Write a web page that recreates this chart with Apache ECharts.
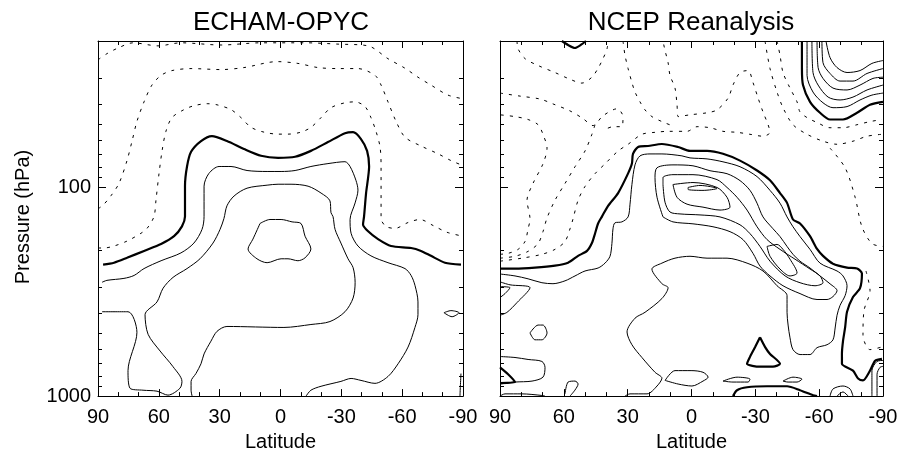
<!DOCTYPE html>
<html><head><meta charset="utf-8">
<script src="https://cdn.jsdelivr.net/npm/echarts@6/dist/echarts.min.js"></script>
<style>html,body{margin:0;padding:0;background:#fff}#c{width:901px;height:457px}</style>
</head><body><div id="c"></div>
<script>
const FONT = 'Liberation Sans, Arial, Helvetica, sans-serif';
const titles = ['ECHAM-OPYC', 'NCEP Reanalysis'];
const latTicks = [90, 60, 30, 0, -30, -60, -90];
const pressureLabels = [100, 1000];
const pressureMinor = [20, 30, 40, 50, 60, 70, 80, 90, 200, 300, 400, 500, 600, 700, 800, 900];

// ---- ECHAM-OPYC contours: [latitude, pressure hPa]
const echamDash1 = [[90,24.6],[85.6,23.0],[80.1,21.6],[72.7,20.4],[60.4,21.1],[49.1,20.4],[29.3,20.9],[9.6,20.4],[-12.1,20.4],[-28.4,20.7],[-43.2,21.1],[-53.0,24.3],[-61.4,27.0],[-67.8,29.8],[-74.2,32.5],[-82.6,36.3],[-90,37.8]];
const echamDash2 = [[90,127],[87.5,122],[83.6,110],[79.6,95.8],[75.7,74.7],[73.2,60.2],[70.8,48.5],[67.3,39.1],[63.4,32.5],[58.9,29.2],[53.5,27.7],[44.1,27.1],[29.3,27.4],[18.0,26.8],[1.7,25.1],[-8.6,25.6],[-18.5,26.8],[-28.4,27.1],[-38.2,27.1],[-46.6,29.2],[-49.6,32.5],[-53.0,39.1],[-57.0,48.5],[-61.4,57.7],[-69.3,63.6],[-77.7,69.3],[-84.1,74.7],[-90,78.9]];
const echamDash3 = [[90,195.6],[87.0,195.6],[82.1,191.4],[75.7,181.3],[68.8,166.3],[65.8,157.6],[62.4,138.4],[61.4,115.2],[59.9,86.0],[58.4,67.1],[56.5,54.1],[53.5,46.5],[47.6,42.6],[42.7,40.8],[36.2,39.9],[31.3,40.4],[24.4,42.6],[19.5,46.5],[14.5,51.8],[8.1,54.6],[1.2,55.8],[-3.7,55.8],[-10.1,54.6],[-15.0,51.8],[-20.0,46.5],[-24.9,41.7],[-31.8,39.5],[-36.8,39.1],[-41.7,41.2],[-44.6,46.5],[-47.1,54.1],[-49.1,64.3],[-49.6,79.7],[-49.6,95.8],[-49.6,115.2],[-49.6,141.4],[-52.0,154.2],[-56.5,157.6],[-62.9,147.7],[-68.8,142.9],[-75.2,152.6],[-82.1,164.5],[-90,171.8]];
const echamZero = [[87.5,235.0],[82.1,230.0],[75.7,217.9],[67.3,202.0],[58.9,187.3],[52.5,171.8],[48.6,154.2],[47.1,138.4],[47.1,99.0],[46.1,79.7],[44.1,67.8],[39.2,60.2],[33.8,57.0],[26.4,60.2],[18.0,65.7],[9.6,70.8],[1.2,72.4],[-7.2,71.6],[-15.0,67.1],[-23.4,60.9],[-31.8,55.2],[-35.8,54.6],[-39.7,58.9],[-42.7,67.1],[-43.7,79.7],[-42.2,106.8],[-41.2,138.4],[-40.7,150.9],[-43.2,162.8],[-48.1,177.4],[-54.5,191.4],[-64.4,195.6],[-69.3,202.0],[-74.2,213.3],[-81.1,230.0],[-89,235.0]];
const echamPos1 = [[88.0,285.4],[85.6,279.4],[77.2,273.4],[72.2,264.7],[67.3,245.4],[58.9,225.1],[49.1,206.5],[42.7,185.3],[38.7,159.3],[37.7,138.4],[37.7,99.0],[35.3,86.0],[30.3,79.7],[24.4,79.7],[16.5,83.3],[6.6,84.2],[-0.3,84.2],[-7.2,83.3],[-15.0,79.7],[-23.4,77.2],[-31.8,75.6],[-34.3,79.7],[-37.2,92.8],[-38.2,103.4],[-36.8,119.0],[-34.3,142.9],[-34.8,166.3],[-38.2,191.4],[-44.6,213.3],[-53.0,230.0],[-61.4,245.4],[-64.4,264.7],[-66.3,294.9],[-67.8,354.3],[-67.8,407.9],[-66.3,469.4],[-62.9,582.6],[-58.0,700.1],[-53.0,805.7],[-46.6,869.0],[-39.7,841.3],[-34.8,823.3],[-29.8,850.5],[-20.0,897.4],[-15.0,937.1],[-12.6,1000]];
const echamPos2 = [[43.6,1000],[44.1,937.1],[44.1,850.5],[41.7,779.8],[39.2,700.1],[37.7,628.3],[34.3,546.0],[31.3,489.9],[26.4,464.3],[-1.7,469.4],[-15.0,454.4],[-24.4,439.9],[-31.8,394.8],[-35.8,339.5],[-36.8,285.4],[-35.8,242.8],[-33.3,220.3],[-29.8,185.3],[-26.9,159.3],[-25.9,138.4],[-24.9,132.6],[-24.4,116.4],[-20.0,106.8],[-13.6,99.0],[-5.2,96.9],[1.2,96.9],[6.6,97.9],[16.5,101.2],[22.9,110.3],[26.4,122.9],[27.9,141.4],[29.8,159.3],[33.3,185.3],[39.7,220.3],[46.1,245.4],[53.0,270.4],[57.9,304.6],[60.9,354.3],[66.8,407.9],[65.3,506.2],[59.4,608.3],[53.0,723.2],[48.6,850.5],[49.6,917.4],[55.5,989.2],[60.9,947.3],[67.8,937.1],[74.2,917.4],[75.2,755.2],[70.8,495.3],[75.2,394.8],[88.0,394.8]];
const echamPos3 = [[10.1,149.3],[5.2,142.9],[-0.3,142.9],[-5.7,146.7],[-10.1,149.3],[-12.1,171.8],[-15.0,197.7],[-12.1,217.9],[-8.6,225.1],[-3.7,220.3],[-0.3,220.3],[6.6,230.0],[11.6,220.3],[16.0,197.7],[13.6,177.4],[10.1,149.3]];
const echamSmall = [[-80.6,399],[-84.1,390],[-88.0,399],[-84.6,417],[-80.6,399]];
const echamEdge = [[-89,780],[-88.7,897],[-88.5,1000]];

// ---- NCEP contours: [latitude, pressure hPa]
const ncepTopArc = [[60.9,20],[58.0,20.9],[54.8,21.6],[51.5,20.7],[49.6,20]];
const ncepDashU = [[82.0,20],[81.5,21.8],[78.2,24.3],[72.1,26.2],[64.2,28.3],[58.0,30.2],[51.5,31.8],[46.8,29.8],[43.9,27.0],[41.6,24.3],[39.7,21.8],[39.2,20]];
const ncepDash3 = [[90,35.5],[80.6,36.7],[71.2,37.9],[65.1,40.0],[57.1,43.2],[51.0,47.0],[46.3,50.8],[41.6,45.6],[35.0,42.2],[32.2,46.0],[32.7,51.4],[36.9,51.4],[40.65,53.0]];
const ncepDashA = [[90,209.7],[86.2,207.5],[81.5,198.6],[78.25,182.1],[76.8,158.4],[75.9,142.2],[77.3,115.6],[74.5,96.1],[69.8,77.4],[67.9,65.1],[69.8,55.9],[72.1,50.3],[76.8,47.5],[82.95,46.0],[90,45.1]];
const ncepDashB = [[90,218.8],[82.95,214.3],[76.8,203.0],[72.1,186.3],[69.8,163.4],[67.9,140.5],[64.15,115.6],[59.45,96.1],[54.75,79.9],[50.05,67.2],[46.8,55.9],[45.35,50.3]];
const ncepDashC = [[90,226.2],[79.7,218.8],[70.3,209.7],[64.15,198.6],[59.45,182.1],[57.1,158.4],[55.7,142.2],[53.3,115.6],[50.05,99.3],[45.35,86.3],[40.65,77.4],[34.5,67.2],[29.8,62.4],[23.3,55.9],[17.15,54.7],[11.0,54.1],[2.1,54.1],[-2.6,51.4],[-8.7,52.0],[-14.8,54.1],[-21.4,54.7],[-27.5,55.9],[-33.6,57.1],[-36.9,54.7],[-36.0,50.3],[-33.6,43.7],[-31.3,37.5],[-28.9,31.6],[-26.6,27.7],[-22.8,28.3],[-19.5,32.5],[-17.2,37.5],[-12.0,42.7],[-7.3,44.1],[0.7,45.1],[6.3,46.0],[6.8,40.4],[7.75,33.6],[10.1,29.2],[11.0,25.4],[12.45,22.2],[13.4,20]];
const ncepDashD = [[32.2,20],[31.25,23.4],[29.8,27.1],[28.0,31.6],[26.55,35.1],[24.2,39.1],[21.85,42.7],[18.6,46.0],[13.9,48.6],[9.2,50.8]];
const ncepDashR1 = [[-40.2,20],[-41.6,23.4],[-43.0,28.3],[-46.3,33.6],[-49.6,39.1],[-51.0,43.7],[-54.3,46.5],[-59.0,49.1],[-65.1,52.0],[-71.2,52.0],[-77.8,50.3],[-83.9,48.6],[-89.5,47.5]];
const ncepDashR2 = [[-34.55,20],[-36.9,27.1],[-40.2,35.1],[-43.0,41.7],[-47.7,50.3],[-54.3,55.9],[-61.8,60.3],[-68.4,62.4],[-75.9,60.3],[-82.5,57.1],[-89.5,55.9]];
const ncepDashR3 = [[-65.1,65.1],[-72.2,80.8],[-76.9,111.9],[-80.1,154.8],[-84.8,186.3],[-90,192.3]];
const ncepDashR4 = [[-82.0,252.0],[-83.9,313.0],[-81.1,388.7],[-80.6,509.5],[-83.9,599.3],[-90,580]];
const ncepTopThick = [[-51.9,20],[-51.9,27.1],[-52.4,32.5],[-55.7,39.1],[-60.4,44.1],[-65.1,47.5],[-71.2,47.5],[-77.8,44.1],[-83.9,40.4],[-90,39.1]];
const ncepTop1 = [[-54.3,20],[-54.3,29.2],[-57.1,35.1],[-61.8,39.5],[-66.5,41.7],[-73.1,41.2],[-79.2,38.3],[-84.8,36.3],[-90,35.5]];
const ncepTop2 = [[-56.6,20],[-57.1,28.3],[-59.5,32.5],[-64.2,37.1],[-69.8,38.3],[-75.9,37.1],[-82.5,34.3],[-90,32.5]];
const ncepTop3 = [[-59.0,20],[-59.5,26.8],[-61.8,30.2],[-66.5,33.6],[-73.1,34.3],[-79.2,32.5],[-85.3,30.2],[-90,29.8]];
const ncepTop4 = [[-61.3,20],[-61.8,25.4],[-65.1,28.6],[-69.8,31.1],[-75.9,31.1],[-82.5,28.6],[-90,27.1]];
const ncepTop5 = [[-63.2,20],[-65.1,24.0],[-68.4,26.8],[-73.1,28.3],[-79.2,27.7],[-84.8,25.6],[-90,24.8]];
const ncepZero = [[90,245.4],[82.95,245.4],[73.55,242.8],[64.15,237.6],[58.0,230.0],[53.3,213.3],[49.1,202.0],[46.8,185.3],[45.3,166.3],[43.9,149.3],[42.1,138.4],[39.2,122.9],[34.5,106.8],[29.8,86.0],[28.0,77.2],[27.5,69.3],[25.1,64.3],[20.4,63.6],[13.9,62.2],[6.3,64.3],[0.7,67.1],[-7.3,67.1],[-14.8,69.3],[-22.8,74.7],[-30.8,83.3],[-36.9,92.8],[-41.6,106.8],[-44.9,119.0],[-47.7,142.9],[-51.0,149.3],[-55.7,171.8],[-59.0,197.7],[-61.8,213.3],[-66.5,232.5],[-73.1,242.8],[-77.8,245.4],[-80.1,259.0],[-79.2,304.6],[-75.9,335.7],[-73.1,394.8],[-72.2,469.4],[-71.2,546.0],[-70.7,628.3],[-70.7,700.1],[-75.9,755.2],[-78.3,823.3],[-80.6,841.3],[-83.9,755.2],[-86.3,677.7],[-89.5,663.2]];
const ncepPos1 = [[90,260.5],[82.95,266.1],[76.8,274.7],[70.3,286.8],[65.1,289.9],[59.45,280.9],[54.75,266.1],[50.05,252.0],[43.9,243.9],[40.65,231.1],[38.3,214.3],[37.4,186.3],[36.9,158.4],[36.0,148.3],[32.7,146.7],[29.8,138.9],[28.9,120.7],[28.0,97.2],[26.55,78.3],[24.2,70.9],[19.5,69.4],[13.9,69.4],[4.5,70.9],[0.7,72.5],[-7.3,73.3],[-14.8,75.7],[-22.8,79.9],[-30.8,89.1],[-36.9,103.7],[-41.6,119.4],[-44.9,138.9],[-47.7,154.8],[-51.0,172.5],[-55.7,198.6],[-60.4,231.1],[-68.4,252.0],[-71.2,266.1],[-73.1,296.5],[-72.2,330.4],[-69.8,368.2],[-68.4,410.3],[-67.5,472.3],[-66.5,537.8],[-63.7,567.8],[-59.0,586.4],[-55.7,632.7],[-51.0,632.7],[-47.7,599.3],[-46.3,526.4],[-45.4,457.2],[-44.9,397.3],[-44.9,330.4],[-40.2,296.5],[-33.6,252.0],[-26.1,231.1],[-16.7,218.8],[-7.3,218.8],[0.7,214.3],[7.75,218.8],[13.9,231.1],[18.6,246.6],[13.9,289.9],[11.0,303.0],[13.9,341.3],[21.85,397.3],[26.55,423.9],[30.3,493.3],[28.0,567.8],[23.3,653.6],[17.15,769.1],[13.9,820.5],[16.2,894.8],[20.9,975.7],[28.9,975.7],[31.25,1000]];
const ncepPos2 = [[13.4,138.9],[16.2,111.9],[17.15,90.1],[16.2,80.8],[8.7,78.3],[-0.7,79.1],[-8.7,83.5],[-16.7,86.3],[-22.8,93.1],[-27.5,103.7],[-30.8,119.4],[-33.6,138.9],[-38.3,158.2],[-41.6,172.5],[-44.9,192.3],[-47.7,209.7],[-51.0,226.2],[-55.7,243.9],[-60.4,266.1],[-65.1,290.2],[-68.4,313.0],[-66.5,334.0],[-63.7,345.0],[-59.0,345.0],[-51.0,323.3],[-43.0,296.5],[-36.9,266.1],[-32.2,238.8],[-28.9,207.5],[-24.2,178.3],[-18.1,163.4],[-10.1,154.8],[-0.7,149.9],[8.7,146.7],[13.4,138.9]];
const ncepPos3 = [[13.4,97.2],[13.4,90.1],[8.7,87.2],[-0.7,87.2],[-12.0,92.1],[-16.7,100.4],[-21.4,111.9],[-26.1,128.8],[-30.8,154.8],[-35.5,178.3],[-41.6,198.6],[-48.65,221.3],[-55.7,246.6],[-60.4,266.1],[-61.8,286.8],[-58.05,296.5],[-51.0,286.8],[-44.0,266.1],[-36.9,226.2],[-32.2,192.3],[-27.5,167.0],[-22.8,151.5],[-13.4,138.9],[-4.0,135.9],[5.4,134.4],[10.1,131.6],[12.45,118.1],[13.4,97.2]];
const ncepLoop1 = [[8.7,97.2],[-0.7,95.1],[-12.0,100.4],[-16.7,111.9],[-18.1,124.7],[-13.4,128.8],[-5.4,124.7],[2.1,120.7],[6.8,111.9],[8.7,97.2]];
const ncepLens1 = [[1.6,100.4],[-4.0,98.2],[-12.0,101.5],[-5.4,103.7],[1.6,102.6],[1.6,100.4]];
const ncepLoop2 = [[-35.5,192.3],[-40.2,188.1],[-43.0,198.6],[-46.3,221.3],[-49.6,257.6],[-46.3,266.1],[-41.6,246.6],[-36.9,214.3],[-35.5,192.3]];
const ncepEdgeTri = [[90,284],[85.3,293.5],[75.9,303.0],[82.0,356.8],[86.7,397.3],[90,410.3]];
const ncepEdgeSmall = [[90,299.5],[85.3,303.0],[87.65,323.3],[90,337.6]];
const ncepSmallLoop = [[75.9,498.6],[72.1,457.2],[69.8,457.2],[67.9,498.6],[70.3,537.8],[73.55,537.8],[75.9,498.6]];
const ncepLeftLow = [[90,646.6],[82.95,653.6],[76.8,667.9],[70.3,682.6],[68.85,728.5],[69.8,811.7],[74.95,847.5],[82.95,856.7],[90,875.5]];
const ncepLeftThick = [[90,728.5],[86.2,785.7],[82.95,856.7],[90,866.0]];
const ncepBottomLeft = [[90,1000],[87.65,975.7],[79.7,975.7],[70.3,992.9],[68.85,1000]];
const ncepBottomLoop = [[59.45,975.7],[58.0,856.7],[54.75,847.5],[53.3,875.5],[54.75,934.9],[57.1,1000]];
const ncepLensC = [[12.4,841.3],[7.75,755.2],[0.2,755.2],[-5.4,769.1],[-7.8,811.7],[-5.4,847.5],[-0.2,894.7],[6.3,875.5],[12.4,841.3]];
const ncepLensA = [[-14.8,847.5],[-21.4,811.7],[-27.5,829.4],[-26.6,856.7],[-19.5,856.7],[-14.8,847.5]];
const ncepLensB = [[-43.0,847.5],[-47.7,811.7],[-51.9,829.4],[-49.6,856.7],[-45.4,856.7],[-43.0,847.5]];
const ncepTriangle = [[-32.2,522.9],[-34.6,582.6],[-36.9,628.3],[-41.6,700.1],[-38.3,723.2],[-32.2,723.2],[-26.1,700.1],[-27.5,649.0],[-29.9,582.6],[-32.2,522.9]];
const ncepBottomThick = [[-19.5,1000],[-21.4,937.1],[-26.1,907.4],[-35.5,897.4],[-44.9,897.4],[-51.0,937.1],[-57.1,990],[-59.0,1000]];
const ncepBR1 = [[-65.1,1000],[-66.5,924.2],[-71.2,894.7],[-74.5,924.2],[-75.9,1000]];
const ncepBR2 = [[-68.4,1000],[-71.2,955],[-73.6,1000]];
const ncepRE1 = [[-84.8,1000],[-84.8,755.2],[-87.2,682.6],[-90,675.2]];
const ncepRE2 = [[-87.2,1000],[-87.2,785.7],[-88.6,728.5],[-90,720.6]];

const panels = [
  { grid: { left: 98, top: 41, width: 365, height: 362 }, labels: true, lines: [
    [echamDash1,'dash'],[echamDash2,'dash'],[echamDash3,'dash'],[echamZero,'thick'],
    [echamPos1,'thin'],[echamPos2,'thin'],[echamPos3,'thin'],[echamSmall,'thin'],[echamEdge,'thin']
  ]},
  { grid: { left: 500, top: 41, width: 383, height: 362 }, labels: false, lines: [
    [ncepTopArc,'thick'],[ncepDashU,'dash'],[ncepDash3,'dash'],[ncepDashA,'dash'],[ncepDashB,'dash'],[ncepDashC,'dash'],[ncepDashD,'dash'],
    [ncepDashR1,'dash'],[ncepDashR2,'dash'],[ncepDashR3,'dash'],[ncepDashR4,'dash'],
    [ncepTopThick,'thick'],[ncepTop1,'thin'],[ncepTop2,'thin'],[ncepTop3,'thin'],[ncepTop4,'thin'],[ncepTop5,'thin'],
    [ncepZero,'thick'],[ncepPos1,'thin'],[ncepPos2,'thin'],[ncepPos3,'thin'],[ncepLoop1,'thin'],[ncepLens1,'thin'],[ncepLoop2,'thin'],
    [ncepEdgeTri,'thin'],[ncepEdgeSmall,'thin'],[ncepSmallLoop,'thin'],[ncepLeftLow,'thin'],[ncepLeftThick,'thick'],
    [ncepBottomLeft,'thin'],[ncepBottomLoop,'thin'],[ncepLensC,'thin'],[ncepLensA,'thin'],[ncepLensB,'thin'],
    [ncepTriangle,'thick'],[ncepBottomThick,'thick'],[ncepBR1,'thin'],[ncepBR2,'thin'],[ncepRE1,'thin'],[ncepRE2,'thin']
  ]}
];

const black = '#000';
const grids = [], xAxes = [], yAxes = [], series = [];
panels.forEach((pn, gi) => {
  grids.push(pn.grid);
  ['bottom','top'].forEach(pos => {
    xAxes.push({
      gridIndex: gi, type: 'value', position: pos, min: -90, max: 90, interval: 30, inverse: true,
      axisLine: { show: true, onZero: false, lineStyle: { color: black, width: 1 } },
      axisTick: { show: true, inside: true, length: 7, lineStyle: { color: black, width: 1 } },
      minorTick: { show: true, splitNumber: 3, length: 4, lineStyle: { color: black, width: 1 } },
      splitLine: { show: false },
      axisLabel: { show: pos === 'bottom', customValues: latTicks, fontSize: 20, color: black, fontFamily: FONT, margin: 11,
        formatter: v => String(Math.round(v)) },
      name: pos === 'bottom' ? 'Latitude' : '', nameLocation: 'middle', nameGap: 31,
      nameTextStyle: { fontSize: 20, color: black, fontFamily: FONT }
    });
  });
  ['left','right'].forEach(pos => {
    yAxes.push({
      gridIndex: gi, type: 'log', logBase: 10, position: pos, min: 20, max: 1000, inverse: true,
      axisLine: { show: true, onZero: false, lineStyle: { color: black, width: 1 } },
      axisTick: { show: true, inside: true, length: 8, customValues: pressureLabels, lineStyle: { color: black, width: 1 } },
      splitLine: { show: false },
      axisLabel: { show: pn.labels && pos === 'left', customValues: pressureLabels, fontSize: 20, color: black, fontFamily: FONT, margin: 7,
        formatter: v => String(Math.round(v)) }
    });
    yAxes.push({
      gridIndex: gi, type: 'log', logBase: 10, position: pos, min: 20, max: 1000, inverse: true,
      axisLine: { show: false, onZero: false },
      axisTick: { show: true, inside: true, length: 4, customValues: pressureMinor, lineStyle: { color: black, width: 1 } },
      splitLine: { show: false },
      axisLabel: { show: false }
    });
  });
  pn.lines.forEach(([data, kind]) => {
    series.push({
      type: 'line', data: data, xAxisIndex: gi * 2, yAxisIndex: gi * 4,
      showSymbol: false, symbol: 'none', silent: true, animation: false, clip: true,
      smooth: kind === 'thick' ? 0.25 : 0.3,
      lineStyle: { color: black, width: kind === 'thick' ? 2.2 : 1, type: kind === 'dash' ? [3, 6] : 'solid' }
    });
  });
});

const chart = echarts.init(document.getElementById('c'), null, { renderer: 'canvas' });
chart.setOption({
  backgroundColor: '#fff',
  animation: false,
  grid: grids, xAxis: xAxes, yAxis: yAxes, series: series,
  graphic: [
    { type: 'text', x: 281, y: 23, style: { text: titles[0], font: '26px ' + FONT, fill: black, textAlign: 'center', textVerticalAlign: 'middle' } },
    { type: 'text', x: 691, y: 23, style: { text: titles[1], font: '26px ' + FONT, fill: black, textAlign: 'center', textVerticalAlign: 'middle' } },
    { type: 'text', x: 23, y: 217, rotation: Math.PI / 2, style: { text: 'Pressure (hPa)', font: '20px ' + FONT, fill: black, textAlign: 'center', textVerticalAlign: 'middle' } }
  ]
});
</script></body></html>
